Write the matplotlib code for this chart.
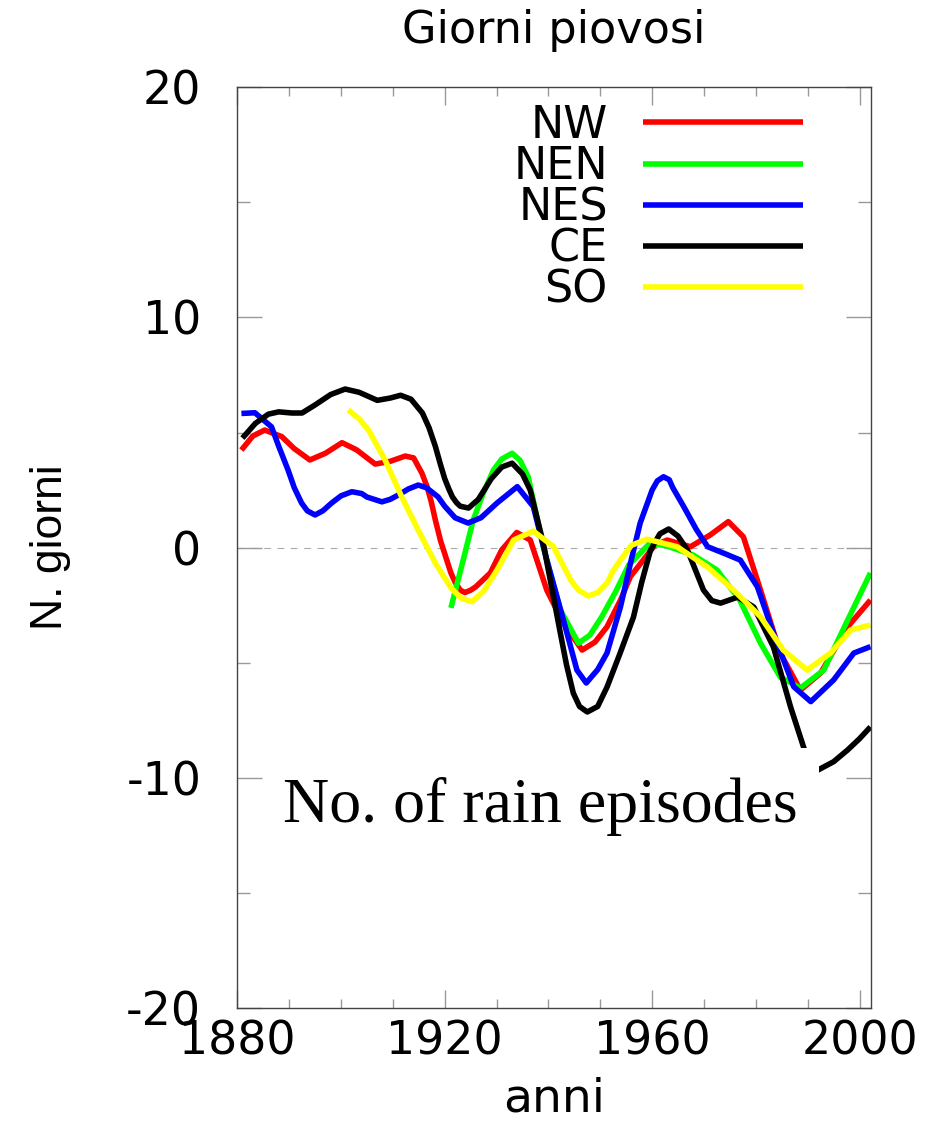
import numpy as np
import matplotlib
matplotlib.use('Agg')
import matplotlib.pyplot as plt
from matplotlib.patches import Rectangle
from matplotlib.ticker import MultipleLocator

plt.rcParams['axes.unicode_minus'] = False

# values (anomalies, N. giorni)
nw_years = [1880.8, 1883, 1885.3, 1888.6, 1891, 1894, 1897, 1900.2, 1903, 1906.6, 1909.5, 1912.4,
            1914, 1915.6, 1916.6, 1917.4, 1918.2, 1919.2, 1920.4, 1921.2, 1922, 1923, 1923.9, 1925,
            1926, 1928.8, 1931, 1933.9, 1936.5,
            1939.7, 1942.9, 1946.5, 1949, 1951.3, 1953.9, 1955.8, 1958.3, 1960.5, 1962.9, 1967.4,
            1971.2, 1974.7, 1977.6, 1980.9, 1984.7, 1988.6, 1992.5, 1997.7, 2002.1]
nw_vals = [4.24, 4.85, 5.11, 4.82, 4.3, 3.81, 4.1, 4.56, 4.25, 3.63, 3.75, 3.98,
           3.9, 3.24, 2.65, 2.0, 1.2, 0.3, -0.54, -1.1, -1.5, -1.85, -1.95, -1.85,
           -1.7, -1.1, -0.1, 0.66, 0.33,
           -1.85, -3.28, -4.45, -4.1, -3.44, -2.28, -1.26, -0.54, 0.1, 0.33, 0.04,
           0.55, 1.13, 0.47, -1.84, -4.58, -6.19, -5.45, -3.44, -2.28]

nen_years = [1921.2, 1923.5, 1925.5, 1927.5, 1929.4, 1931, 1933, 1934.5, 1936.1, 1939, 1942.3,
             1945.8, 1948, 1950.3, 1953, 1955.5, 1959.6, 1962.9, 1967.9, 1972.5, 1976.9, 1980.9,
             1984.7, 1988.6, 1993.1, 1997.7, 2002.1]
nen_vals = [-2.62, -0.6, 1.2, 2.4, 3.37, 3.85, 4.1, 3.8, 3.08, 0.04, -2.71,
            -4.15, -3.8, -3.0, -1.9, -0.75, 0.2, 0.07, -0.32, -0.97, -2.28, -4.15,
            -5.62, -6.1, -5.32, -3.15, -1.1]

nes_years = [1880.8, 1883.4, 1886.6, 1888, 1889.8, 1891, 1892.4, 1893.5, 1895, 1896.5, 1898.2,
             1900, 1902.1, 1904, 1905, 1907.9, 1909.5, 1911, 1913, 1914.9, 1916.5, 1918.7, 1920,
             1922, 1924.5, 1927, 1930.1, 1934, 1937.1, 1939.7, 1942.9,
             1945.5, 1947.3, 1949.5, 1951.3, 1953.9, 1955.8, 1957.7, 1960, 1961, 1962.2, 1963.3,
             1964, 1966.1, 1968.5, 1970.7, 1973.8, 1977, 1980.3, 1983.4, 1987.3, 1990.6, 1995,
             1998.9, 2002.1]
nes_vals = [5.83, 5.86, 5.25, 4.4, 3.37, 2.6, 1.94, 1.6, 1.42, 1.6, 1.94,
            2.25, 2.43, 2.35, 2.2, 1.99, 2.1, 2.28, 2.55, 2.72, 2.6, 2.21, 1.8,
            1.3, 1.07, 1.3, 1.94, 2.65, 1.78, -0.54, -3.15,
            -5.32, -5.88, -5.3, -4.58, -2.57, -0.7, 1.07, 2.5, 2.9, 3.08, 2.95,
            2.6, 1.78, 0.8, 0.04, -0.24, -0.54, -1.7, -3.72, -6.04, -6.69, -5.75,
            -4.58, -4.3]

ce_years = [1881, 1883.5, 1886, 1888, 1890.5, 1892.5, 1895, 1898, 1900.8, 1903.5, 1907, 1909.5,
            1911.5, 1913.5, 1915.7, 1917, 1918.2, 1919.2, 1920, 1920.8, 1921.5, 1922.3, 1923,
            1924.6, 1926.5, 1929, 1931, 1933,
            1935, 1936.5, 1939, 1942.3, 1943.5, 1944.8, 1946, 1947.5, 1949.5, 1951.3, 1953.8,
            1956.4, 1958, 1959.7,
            1961.5, 1963.2, 1965, 1966.8, 1969.9, 1971.5, 1973.2, 1976.5, 1979.6, 1983.4, 1986.7,
            1989.2, 1990.8, 1992.5, 1995, 1997.7, 2000, 2002.1]
ce_vals = [4.76, 5.4, 5.8, 5.9, 5.85, 5.85, 6.2, 6.65, 6.89, 6.75, 6.4, 6.5,
           6.62, 6.45, 5.85, 5.2, 4.4, 3.6, 3.0, 2.55, 2.2, 1.95, 1.8,
           1.72, 2.1, 3.0, 3.5, 3.67,
           3.2, 2.5, 0.2, -3.71, -5.1, -6.32, -6.9, -7.14, -6.9, -6.06, -4.6,
           -3.02, -1.5, -0.1,
           0.6, 0.81, 0.5, -0.1, -1.84, -2.3, -2.41, -2.15, -2.58, -4.32, -6.92,
           -8.66, -9.8, -9.6, -9.3, -8.79, -8.3, -7.79]

so_years = [1901.4, 1903.5, 1905.3, 1908.5, 1911.7, 1914.9, 1918.2, 1921.2, 1923.2, 1925.3,
            1927.5, 1930.1, 1933.3, 1937.1, 1941, 1944.3, 1945.8, 1947.7, 1949.5, 1951.3, 1952.5,
            1953.9, 1956, 1959, 1964.8, 1970.6, 1975.7, 1980.9, 1985.3, 1989.9, 1994.4, 1998.3,
            2002.1]
so_vals = [5.98, 5.6, 5.11, 3.81, 2.21, 0.76, -0.67, -1.75, -2.2, -2.35,
           -1.9, -0.97, 0.33, 0.72, 0.04, -1.41, -1.85, -2.1, -1.95, -1.54, -1.0,
           -0.54, 0.1, 0.37, 0.04, -0.83, -1.84, -3.0, -4.45, -5.32, -4.58, -3.58,
           -3.36]

labels = ['NW', 'NEN', 'NES', 'CE', 'SO']
colors = ['#ff0000', '#00ff00', '#0000ff', '#000000', '#ffff00']

fig = plt.figure(figsize=(9.33, 11.28), dpi=100)
ax = fig.add_axes([0.2543, 0.1064, 0.6792, 0.8162])

series = [(nw_years, nw_vals), (nen_years, nen_vals), (nes_years, nes_vals),
          (ce_years, ce_vals), (so_years, so_vals)]
for (yy, vv), lab, col in zip(series, labels, colors):
    ax.plot(yy, vv, color=col, lw=4, label=lab, solid_joinstyle='round',
            solid_capstyle='butt', zorder=2)

ax.axhline(0, color='#aaaaaa', lw=0.8, ls=(0, (6, 6)), zorder=1)

ax.set_xlim(1880, 2002.2)
ax.set_ylim(-20, 20)
ax.xaxis.set_major_locator(MultipleLocator(40))
ax.xaxis.set_minor_locator(MultipleLocator(10))
ax.yaxis.set_major_locator(MultipleLocator(10))
ax.yaxis.set_minor_locator(MultipleLocator(5))
ax.tick_params(axis='both', which='both', direction='in', top=True, right=True,
               color='#999999', width=1.0)
ax.tick_params(axis='x', which='major', length=12.7, pad=8, labelsize=33)
ax.tick_params(axis='x', which='minor', length=6.5)
ax.tick_params(axis='y', which='major', length=18, pad=26, labelsize=33)
ax.tick_params(axis='y', which='minor', length=9.4)
for s in ax.spines.values():
    s.set_color('#444444')
    s.set_linewidth(1.0)

ax.set_xlabel('anni', fontsize=34)
ax.xaxis.set_label_coords(0.5, -0.074)
ax.set_ylabel('N. giorni', fontsize=32, family=['Liberation Sans Narrow', 'Liberation Sans'])
ax.yaxis.set_label_coords(-0.262, 0.5)
ax.set_title('Giorni piovosi', fontsize=32, pad=32)

leg = ax.legend(loc='upper right', bbox_to_anchor=(0.8927, 0.982), frameon=False,
                markerfirst=False, fontsize=32, handlelength=3.6, handletextpad=0.79,
                labelspacing=-0.04, borderpad=0, borderaxespad=0)
for ln in leg.get_lines():
    ln.set_linewidth(4)

# white patch of the pasted caption
ax.add_patch(Rectangle((0.044, 0.15), 0.874, 0.132, transform=ax.transAxes,
                       facecolor='white', edgecolor='none', zorder=3))
ax.text(0.072, 0.202, 'No. of rain episodes', transform=ax.transAxes, fontsize=46,
        family='Liberation Serif', va='baseline', ha='left', zorder=4)

fig.savefig('out.png', dpi=100)
